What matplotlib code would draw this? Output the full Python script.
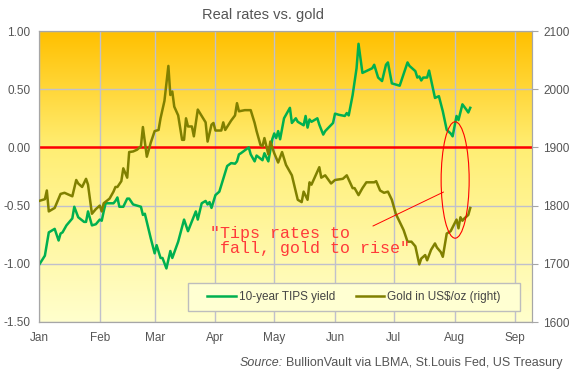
import matplotlib
matplotlib.use('Agg')
import matplotlib.pyplot as plt
import matplotlib.dates as mdates
from matplotlib.patches import Ellipse, Rectangle
from matplotlib.lines import Line2D
import numpy as np
import pandas as pd

plt.rcParams['font.family'] = ['Liberation Sans', 'DejaVu Sans']

# 10-year TIPS yield (%), 2022
tips_dates = ['01-01', '01-04', '01-06', '01-09', '01-11', '01-12', '01-13', '01-15', '01-18', '01-19',
              '01-21', '01-24', '01-25', '01-26', '01-28', '01-30', '02-01', '02-02', '02-03', '02-04',
              '02-08', '02-09', '02-10', '02-11', '02-13', '02-15', '02-16', '02-18', '02-22', '02-23',
              '02-24', '02-27', '03-01', '03-02', '03-04', '03-05', '03-07', '03-09', '03-10', '03-13',
              '03-16', '03-18', '03-22', '03-23', '03-25', '03-27', '03-28', '03-29', '03-30', '04-01',
              '04-03', '04-07', '04-09', '04-11', '04-12', '04-13', '04-14', '04-18', '04-19', '04-21',
              '04-22', '04-25', '04-26', '04-28', '04-30', '05-01', '05-02', '05-03', '05-04', '05-06',
              '05-09', '05-10', '05-12', '05-13', '05-16', '05-17', '05-18', '05-19', '05-20', '05-23',
              '05-24', '05-26', '05-27', '05-31', '06-01', '06-03', '06-06', '06-07', '06-08', '06-10',
              '06-12', '06-13', '06-15', '06-20', '06-21', '06-23', '06-25', '06-27', '06-28', '06-30',
              '07-02', '07-04', '07-05', '07-08', '07-09', '07-12', '07-13', '07-14', '07-15', '07-16',
              '07-18', '07-19', '07-22', '07-24', '07-26', '07-28', '07-30', '07-31', '08-02', '08-03',
              '08-05', '08-07', '08-08', '08-09']
tips_yield = [-1.01, -0.93, -0.73, -0.70, -0.80, -0.74, -0.73, -0.67, -0.61, -0.51,
              -0.60, -0.64, -0.64, -0.55, -0.67, -0.66, -0.62, -0.63, -0.55, -0.48,
              -0.48, -0.46, -0.43, -0.51, -0.51, -0.44, -0.44, -0.49, -0.51, -0.58,
              -0.57, -0.78, -0.91, -0.84, -0.95, -0.95, -1.04, -0.89, -0.95, -0.81,
              -0.62, -0.72, -0.55, -0.62, -0.48, -0.46, -0.49, -0.47, -0.52, -0.41,
              -0.38, -0.16, -0.135, -0.14, -0.12, -0.06, -0.05, 0.00, -0.06, -0.12,
              -0.07, -0.11, -0.05, -0.12, 0.07, 0.12, 0.08, 0.14, 0.07, 0.25,
              0.34, 0.21, 0.25, 0.22, 0.19, 0.27, 0.17, 0.24, 0.22, 0.25,
              0.195, 0.11, 0.14, 0.21, 0.29, 0.28, 0.27, 0.295, 0.275, 0.45,
              0.68, 0.89, 0.64, 0.68, 0.71, 0.60, 0.57, 0.71, 0.73, 0.55,
              0.54, 0.53, 0.58, 0.73, 0.70, 0.655, 0.60, 0.61, 0.575, 0.60,
              0.60, 0.66, 0.425, 0.44, 0.31, 0.15, 0.12, 0.095, 0.27, 0.235,
              0.37, 0.325, 0.30, 0.34]

# Gold price (US$/oz), 2022
gold_dates = ['01-01', '01-04', '01-05', '01-06', '01-07', '01-09', '01-12', '01-14', '01-18', '01-20',
              '01-21', '01-23', '01-25', '01-26', '01-28', '01-30', '02-01', '02-02', '02-03', '02-06',
              '02-08', '02-09', '02-10', '02-12', '02-13', '02-15', '02-16', '02-18', '02-20', '02-22',
              '02-23', '02-25', '02-27', '03-01', '03-03', '03-04', '03-06', '03-08', '03-09', '03-10',
              '03-11', '03-13', '03-15', '03-16', '03-17', '03-18', '03-20', '03-21', '03-23', '03-25',
              '03-27', '03-28', '03-30', '03-31', '04-01', '04-04', '04-05', '04-06', '04-09', '04-11',
              '04-12', '04-13', '04-16', '04-19', '04-21', '04-22', '04-24', '04-25', '04-26', '04-28',
              '04-29', '05-01', '05-03', '05-05', '05-07', '05-09', '05-10', '05-13', '05-15', '05-16',
              '05-18', '05-19', '05-20', '05-24', '05-25', '05-27', '05-30', '06-01', '06-05', '06-07',
              '06-10', '06-11', '06-13', '06-15', '06-17', '06-21', '06-22', '06-24', '06-26', '06-28',
              '06-30', '07-02', '07-04', '07-06', '07-08', '07-10', '07-12', '07-14', '07-15', '07-17',
              '07-18', '07-20', '07-22', '07-23', '07-25', '07-26', '07-28', '07-30', '08-02', '08-03',
              '08-04', '08-05', '08-06', '08-08', '08-09']
gold_price = [1808, 1811, 1826, 1790, 1792, 1796, 1820, 1822, 1816, 1844,
              1838, 1832, 1846, 1836, 1786, 1794, 1800, 1790, 1804, 1812,
              1824, 1832, 1832, 1842, 1864, 1848, 1892, 1893, 1896, 1902,
              1935, 1884, 1908, 1928, 1930, 1950, 1980, 2040, 1990, 1996,
              1970, 1955, 1913, 1913, 1950, 1936, 1936, 1919, 1965, 1954,
              1943, 1910, 1939, 1942, 1929, 1929, 1943, 1930, 1946, 1955,
              1976, 1962, 1964, 1964, 1942, 1928, 1904, 1902, 1916, 1888,
              1910, 1890, 1874, 1892, 1870, 1858, 1852, 1810, 1806, 1824,
              1810, 1840, 1836, 1866, 1848, 1852, 1838, 1844, 1846, 1852,
              1830, 1830, 1818, 1830, 1840, 1840, 1842, 1826, 1822, 1824,
              1810, 1786, 1772, 1758, 1738, 1738, 1730, 1699, 1709, 1715,
              1706, 1724, 1735, 1728, 1720, 1712, 1752, 1756, 1776, 1761,
              1780, 1774, 1778, 1784, 1796]


def to_num(days):
    return mdates.date2num(pd.to_datetime(['2022-' + d for d in days]).to_pydatetime())


tips_x = to_num(tips_dates)
gold_x = to_num(gold_dates)

fig = plt.figure(figsize=(5.75, 3.73), dpi=100)
ax = fig.add_axes([39 / 575, 51 / 373, 493 / 575, 291 / 373])
ax2 = ax.twinx()

# Gradient background: orange at the top, pale yellow at the bottom
t = np.linspace(0, 1, 256)
grad = np.zeros((256, 1, 3))
grad[:, 0, 0] = 1.0
grad[:, 0, 1] = np.interp(t, [0, 0.4, 1], [192, 238, 255]) / 255
grad[:, 0, 2] = np.interp(t, [0, 0.4, 1], [0, 115, 205]) / 255
ax.imshow(grad, extent=[0, 1, 0, 1], transform=ax.transAxes, aspect='auto',
          zorder=0, interpolation='bilinear')

ax.grid(True, color='#C0C0CC', lw=1.0)
ax.set_axisbelow(True)

ax.axhline(0, color='#FF0000', lw=1.8, zorder=2)
ax.plot(tips_x, tips_yield, color='#00B050', lw=1.8, zorder=3)
ax2.plot(gold_x, gold_price, color='#808000', lw=1.8, zorder=3)

ax.set_xlim(mdates.date2num(pd.Timestamp('2022-01-01')),
            mdates.date2num(pd.Timestamp('2022-09-09 12:00')))
ax.set_ylim(-1.5, 1.0)
ax2.set_ylim(1600, 2100)

ax.xaxis.set_major_locator(mdates.MonthLocator())
ax.xaxis.set_major_formatter(mdates.DateFormatter('%b'))
ax.set_yticks(np.arange(-1.5, 1.01, 0.5))
ax.yaxis.set_major_formatter(plt.FuncFormatter(lambda v, p: '%.2f' % v))
ax2.set_yticks(range(1600, 2101, 100))

ax.tick_params(length=0, labelsize=8.5, labelcolor='#555555', pad=6)
ax.tick_params(axis='x', pad=7)
ax2.tick_params(axis='y', length=4, color='#A6A6A6', labelsize=8.5,
                labelcolor='#555555', pad=4)

for a in (ax, ax2):
    for s in a.spines.values():
        s.set_color('#A6A6A6')

fig.text(263 / 575, 1 - 15 / 373, 'Real rates vs. gold', ha='center', va='center',
         fontsize=10.5, color='#555555')

# Annotation
fig.text(210 / 575, 1 - 241 / 373, '"Tips rates to\n fall, gold to rise"',
         family='Liberation Mono', fontsize=12, color='#FF3A3A',
         ha='left', va='center', linespacing=1.05)
ell_x = mdates.date2num(pd.Timestamp('2022-08-01 07:00'))
ax2.add_patch(Ellipse((ell_x, -0.28), width=14.3, height=1.0, fill=False,
                      edgecolor='#FF0000', lw=0.8, transform=ax.transData, zorder=6))
ax2.plot([mdates.date2num(pd.Timestamp('2022-06-20 10:00')),
          mdates.date2num(pd.Timestamp('2022-07-26 07:00'))],
         [1900 - 0.675 * 200, 1900 - 0.384 * 200], color='#FF0000', lw=0.7, zorder=6)

# Legend box
ax2.add_patch(Rectangle((0.302, 0.038), 0.674, 0.096, transform=ax2.transAxes,
                        facecolor='#FFFFD2', edgecolor='#BDBDBD', lw=1, zorder=7))
handles = [Line2D([], [], color='#00B050', lw=1.8), Line2D([], [], color='#808000', lw=1.8)]
leg = ax2.legend(handles, ['10-year TIPS yield', 'Gold in US$/oz (right)'],
                 loc='center', bbox_to_anchor=(0.639, 0.086), ncol=2, frameon=False,
                 fontsize=8.5, handlelength=2.4, handletextpad=0.25, columnspacing=1.8)
leg.set_zorder(8)
for txt in leg.get_texts():
    txt.set_color('#444444')

# Source line
src = fig.text(563 / 575, 1 - 363 / 373, 'BullionVault via LBMA, St.Louis Fed, US Treasury',
               ha='right', va='center', fontsize=9, color='#555555')
fig.canvas.draw()
bb = src.get_window_extent()
fig.text((bb.x0 - 4) / 575, 1 - 363 / 373, 'Source:', ha='right', va='center',
         fontsize=9, color='#555555', style='italic')

fig.savefig('out.png', dpi=100)
